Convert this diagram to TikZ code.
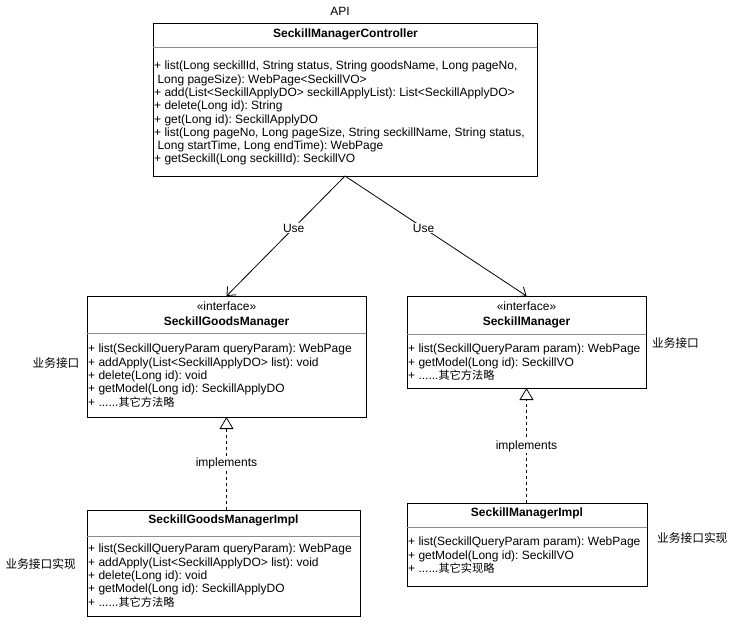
\documentclass[tikz,border=0pt]{standalone}
\usepackage{fontspec}
\setmainfont{Liberation Sans}
\newfontfamily\cjk{Noto Sans CJK SC}
\usetikzlibrary{arrows.meta}
\newcommand{\cjksmall}[1]{{\fontsize{11.2}{12}\selectfont\cjk #1}}
\tikzset{
  umlbox/.style={draw, line width=0.9pt, inner sep=0pt, outer sep=0pt, anchor=north west},
  sepline/.style={draw=black!45, line width=0.9pt},
  mline/.style={anchor=base west, inner sep=0pt, font=\fontsize{12}{13}\selectfont\frenchspacing},
  ttl/.style={inner sep=0pt, font=\fontsize{12}{13}\selectfont\bfseries},
  stereo/.style={inner sep=0pt, font=\fontsize{12}{13}\selectfont},
  lbl/.style={fill=white, inner sep=1pt, font=\fontsize{12}{14}\selectfont},
  side/.style={inner sep=0pt, font=\fontsize{11.7}{14}\selectfont\cjk},
  usearrow/.style={line width=0.8pt, -{Straight Barb[length=7pt,width=12pt]}},
  implarrow/.style={line width=0.8pt, dash pattern=on 3pt off 3pt, -{Triangle[open,length=12pt,width=14pt,fill=white]}}
}
\begin{document}
\begin{tikzpicture}[x=1pt,y=-1pt]
\useasboundingbox[fill=white] (0,0) rectangle (732,625);

% API label
\node[inner sep=0pt, font=\fontsize{12}{14}\selectfont] (api) at (340,11) {API};

% Controller
\node[umlbox, minimum width=384, minimum height=153] (ctrl) at (153,23) {};
\draw[sepline] (153,47) -- (537,47);
\node[ttl] (ctrlt) at (345.5,34.5) {SeckillManagerController};
\node[mline] (c1) at (154,69.8) {+ list(Long seckillId, String status, String goodsName, Long pageNo,};
\node[mline] (c2) at (154,83.1) {\ Long pageSize): WebPage<SeckillVO>};
\node[mline] (c3) at (154,96.4) {+ add(List<SeckillApplyDO> seckillApplyList): List<SeckillApplyDO>};
\node[mline] (c4) at (154,109.7) {+ delete(Long id): String};
\node[mline] (c5) at (154,123) {+ get(Long id): SeckillApplyDO};
\node[mline] (c6) at (154,136.3) {+ list(Long pageNo, Long pageSize, String seckillName, String status,};
\node[mline] (c7) at (154,149.6) {\ Long startTime, Long endTime): WebPage};
\node[mline] (c8) at (154,162.9) {+ getSeckill(Long seckillId): SeckillVO};

% SeckillGoodsManager
\node[umlbox, minimum width=279, minimum height=121] (goods) at (87,296) {};
\draw[sepline] (87,333) -- (366,333);
\node[stereo] (gs) at (226.5,306) {«interface»};
\node[ttl] (gt) at (226.5,322) {SeckillGoodsManager};
\node[mline] (g1) at (88,352.8) {+ list(SeckillQueryParam queryParam): WebPage};
\node[mline] (g2) at (88,366.1) {+ addApply(List<SeckillApplyDO> list): void};
\node[mline] (g3) at (88,379.4) {+ delete(Long id): void};
\node[mline] (g4) at (88,392.7) {+ getModel(Long id): SeckillApplyDO};
\node[mline] (g5) at (88,406) {+ ......\cjksmall{其它方法略}};

% SeckillManager
\node[umlbox, minimum width=239, minimum height=92] (mgr) at (407,296) {};
\draw[sepline] (407,334) -- (646,334);
\node[stereo] (ms) at (526.5,306) {«interface»};
\node[ttl] (mt) at (526.5,322) {SeckillManager};
\node[mline] (m1) at (408,352.8) {+ list(SeckillQueryParam param): WebPage};
\node[mline] (m2) at (408,366.1) {+ getModel(Long id): SeckillVO};
\node[mline] (m3) at (408,379.4) {+ ......\cjksmall{其它方法略}};

% SeckillGoodsManagerImpl
\node[umlbox, minimum width=273, minimum height=106] (gimpl) at (87,510) {};
\draw[sepline] (87,536) -- (360,536);
\node[ttl] (git) at (223.5,520) {SeckillGoodsManagerImpl};
\node[mline] (i1) at (88,552.8) {+ list(SeckillQueryParam queryParam): WebPage};
\node[mline] (i2) at (88,566.1) {+ addApply(List<SeckillApplyDO> list): void};
\node[mline] (i3) at (88,579.4) {+ delete(Long id): void};
\node[mline] (i4) at (88,592.7) {+ getModel(Long id): SeckillApplyDO};
\node[mline] (i5) at (88,606) {+ ......\cjksmall{其它方法略}};

% SeckillManagerImpl
\node[umlbox, minimum width=240, minimum height=83] (mimpl) at (407,503) {};
\draw[sepline] (407,527) -- (647,527);
\node[ttl] (mit) at (527,513) {SeckillManagerImpl};
\node[mline] (j1) at (408,545.8) {+ list(SeckillQueryParam param): WebPage};
\node[mline] (j2) at (408,559.1) {+ getModel(Long id): SeckillVO};
\node[mline] (j3) at (408,572.4) {+ ......\cjksmall{其它实现略}};

% side labels
\node[side] (s1) at (56,363) {业务接口};
\node[side] (s2) at (675.5,343) {业务接口};
\node[side] (s3) at (40.7,564) {业务接口实现};
\node[side] (s4) at (692.3,538) {业务接口实现};

% connectors
\coordinate (cb) at (345,176);
\draw[usearrow] (cb) -- (goods.north) node[lbl, pos=0.433] {Use};
\draw[usearrow] (cb) -- (mgr.north) node[lbl, pos=0.433] {Use};
\draw[implarrow] (goods.south |- gimpl.north) -- (goods.south) node[lbl, midway] {implements};
\draw[implarrow] (mgr.south |- mimpl.north) -- (mgr.south) node[lbl, pos=0.49] {implements};
\end{tikzpicture}
\end{document}
